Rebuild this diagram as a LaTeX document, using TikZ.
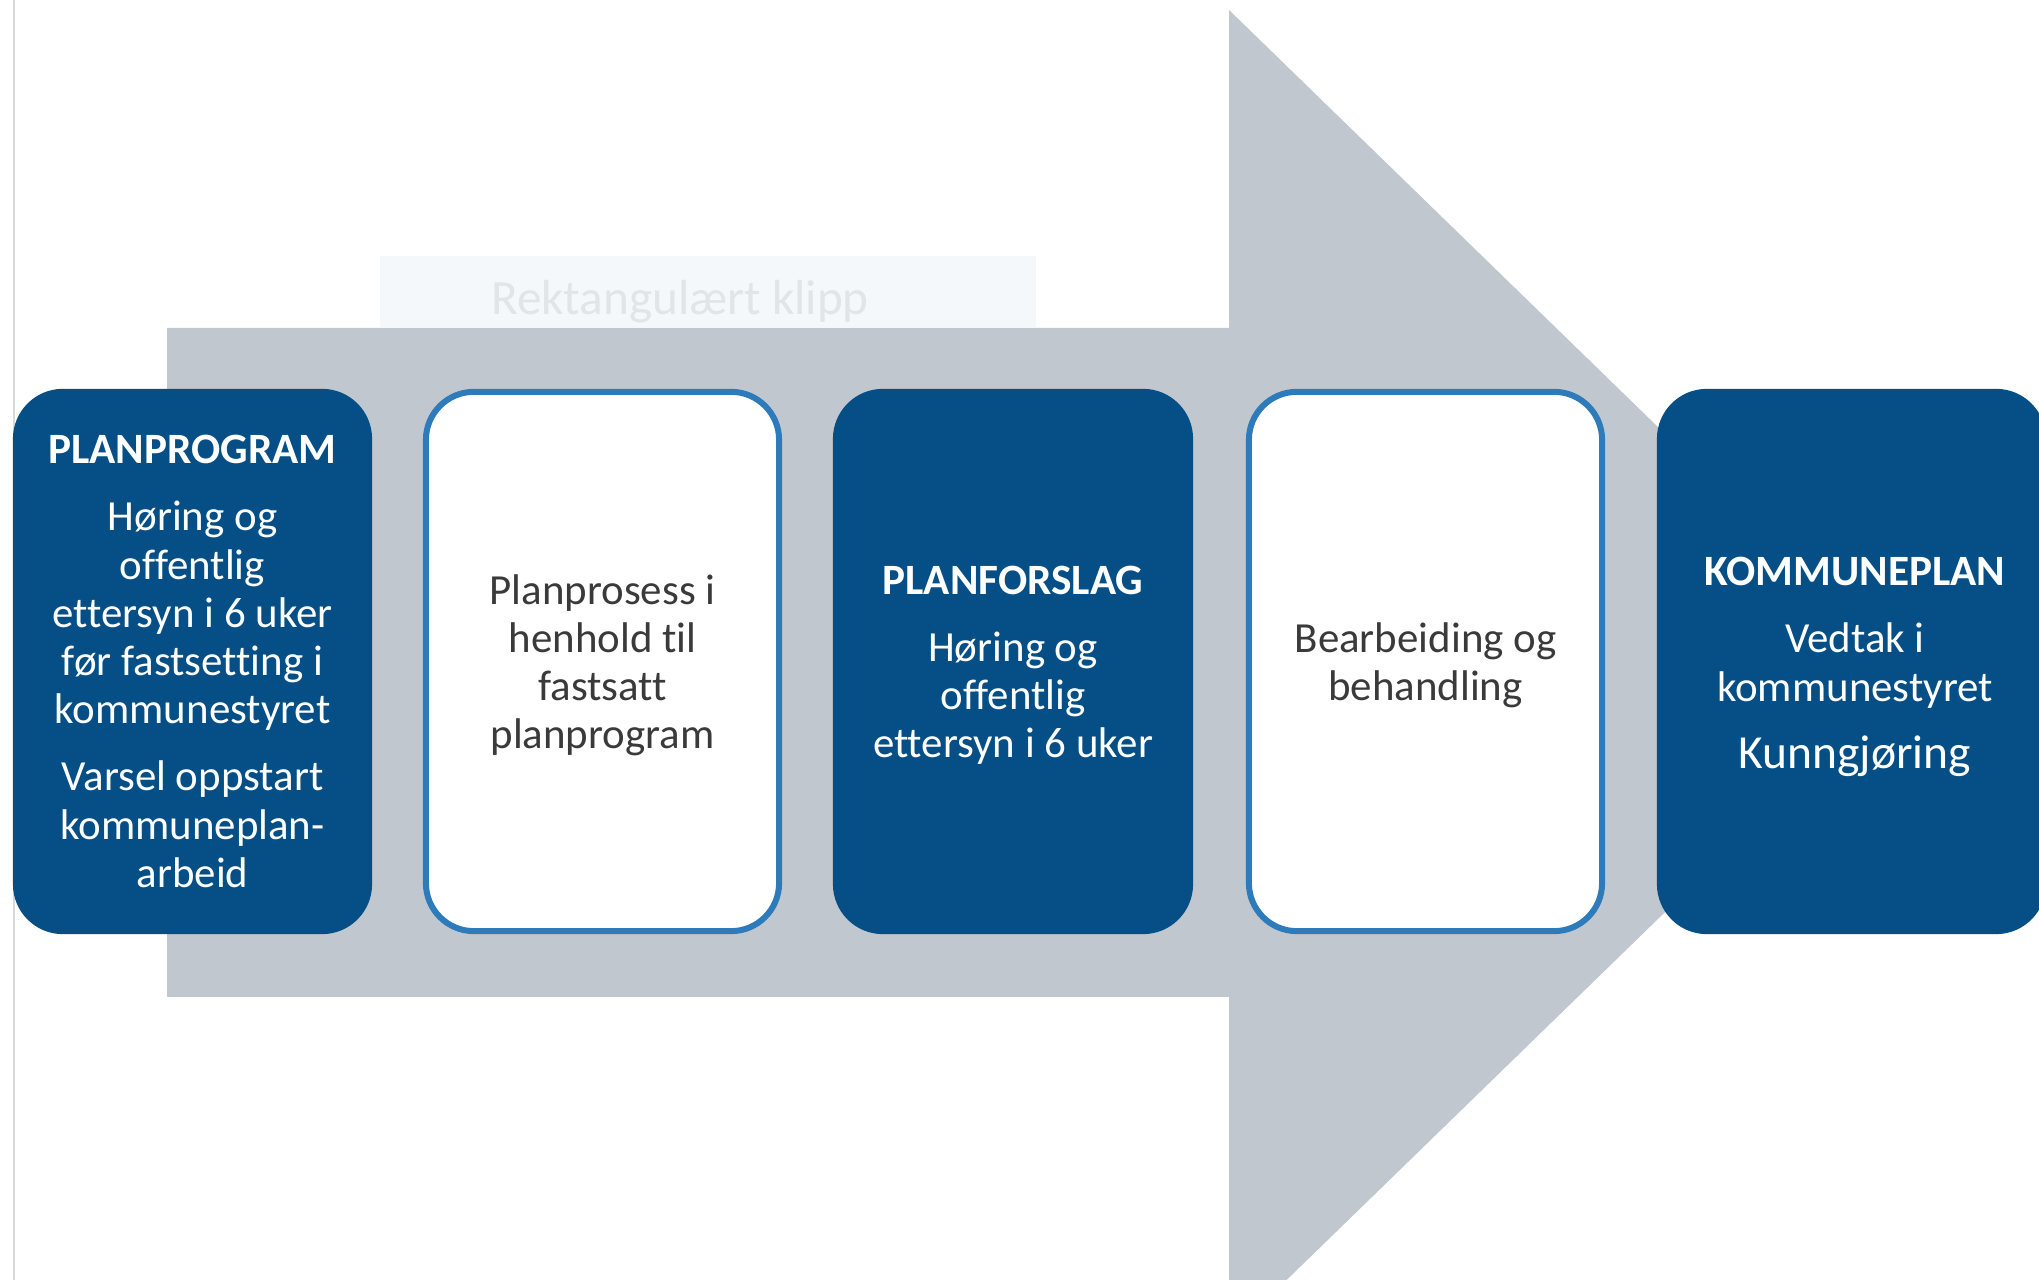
\documentclass[tikz,border=0pt]{standalone}
\usepackage{fontspec}
\setmainfont{Carlito}[Ligatures=NoCommon]
\definecolor{arrowgray}{HTML}{C1C7CF}
\definecolor{darkblue}{HTML}{054F86}
\definecolor{edgeblue}{HTML}{2D7BBA}
\definecolor{bodytext}{HTML}{3A3A3A}
\definecolor{clipfill}{HTML}{F5F8FB}
\definecolor{cliptext}{HTML}{E2E5E8}
\definecolor{sideline}{HTML}{D9D9D9}
\tikzset{
  darkbox/.style={draw=none, fill=darkblue, rounded corners=0.5cm, inner sep=0pt,
    minimum height=5.45cm},
  lightbox/.style={draw=edgeblue, line width=0.06cm, fill=white, rounded corners=0.48cm,
    inner sep=0pt, minimum width=3.53cm, minimum height=5.39cm},
  whitetext/.style={text=white, align=center, inner sep=0pt,
    font=\fontsize{12.2}{13.7}\selectfont},
  greytext/.style={text=bodytext, align=center, inner sep=0pt,
    font=\fontsize{12.2}{13.7}\selectfont}
}
\newcommand{\boxtitle}[1]{{\bfseries\fontsize{12.3}{13.7}\selectfont #1}}
\begin{document}
\begin{tikzpicture}[x=0.01cm, y=-0.01cm]
\useasboundingbox (0,0) rectangle (2039,1280);
\clip (0,0) rectangle (2039,1280);
\fill[white] (0,0) rectangle (2039,1280);
% thin side line
\draw[sideline, line width=0.02cm] (14,0) -- (14,1280);
% big arrow
\fill[arrowgray] (167,328) -- (1229,328) -- (1229,10) -- (1911,673) -- (1229,1336) -- (1229,997) -- (167,997) -- cycle;
% snipping overlay
\fill[clipfill] (380,256) rectangle (1036,328);
\node[text=cliptext, font=\fontsize{14}{16}\selectfont, inner sep=0pt] (clip) at (680,302) {Rektangulært klipp};
% boxes
\node[darkbox, minimum width=3.59cm] (b1) at (192.5,661.5) {};
\node[lightbox] (b2) at (602.5,661.5) {};
\node[darkbox, minimum width=3.60cm] (b3) at (1013,661.5) {};
\node[lightbox] (b4) at (1425.5,661.5) {};
\node[darkbox, minimum width=3.89cm] (b5) at (1851.5,661.5) {};
% texts
\node[whitetext] (t1) at (192.5,661.5)
  {\boxtitle{PLANPROGRAM}\\[5.4pt]
   Høring og\\offentlig\\ettersyn i 6 uker\\før fastsetting i\\kommunestyret\\[5.4pt]
   Varsel oppstart\\kommuneplan-\\arbeid};
\node[greytext] (t2) at (602.5,665.5)
  {Planprosess i\\henhold til\\fastsatt\\planprogram};
\node[whitetext] (t3) at (1013,665.5)
  {\boxtitle{PLANFORSLAG}\\[5.4pt]
   Høring og\\offentlig\\ettersyn i 6 uker};
\node[greytext] (t4) at (1425.5,665.5)
  {Bearbeiding og\\behandling};
\node[whitetext] (t5) at (1855,667)
  {\boxtitle{KOMMUNEPLAN}\\[5.4pt]
   Vedtak i\\kommunestyret\\[5.5pt]
   {\fontsize{13.5}{14}\selectfont Kunngjøring}};
\end{tikzpicture}
\end{document}
